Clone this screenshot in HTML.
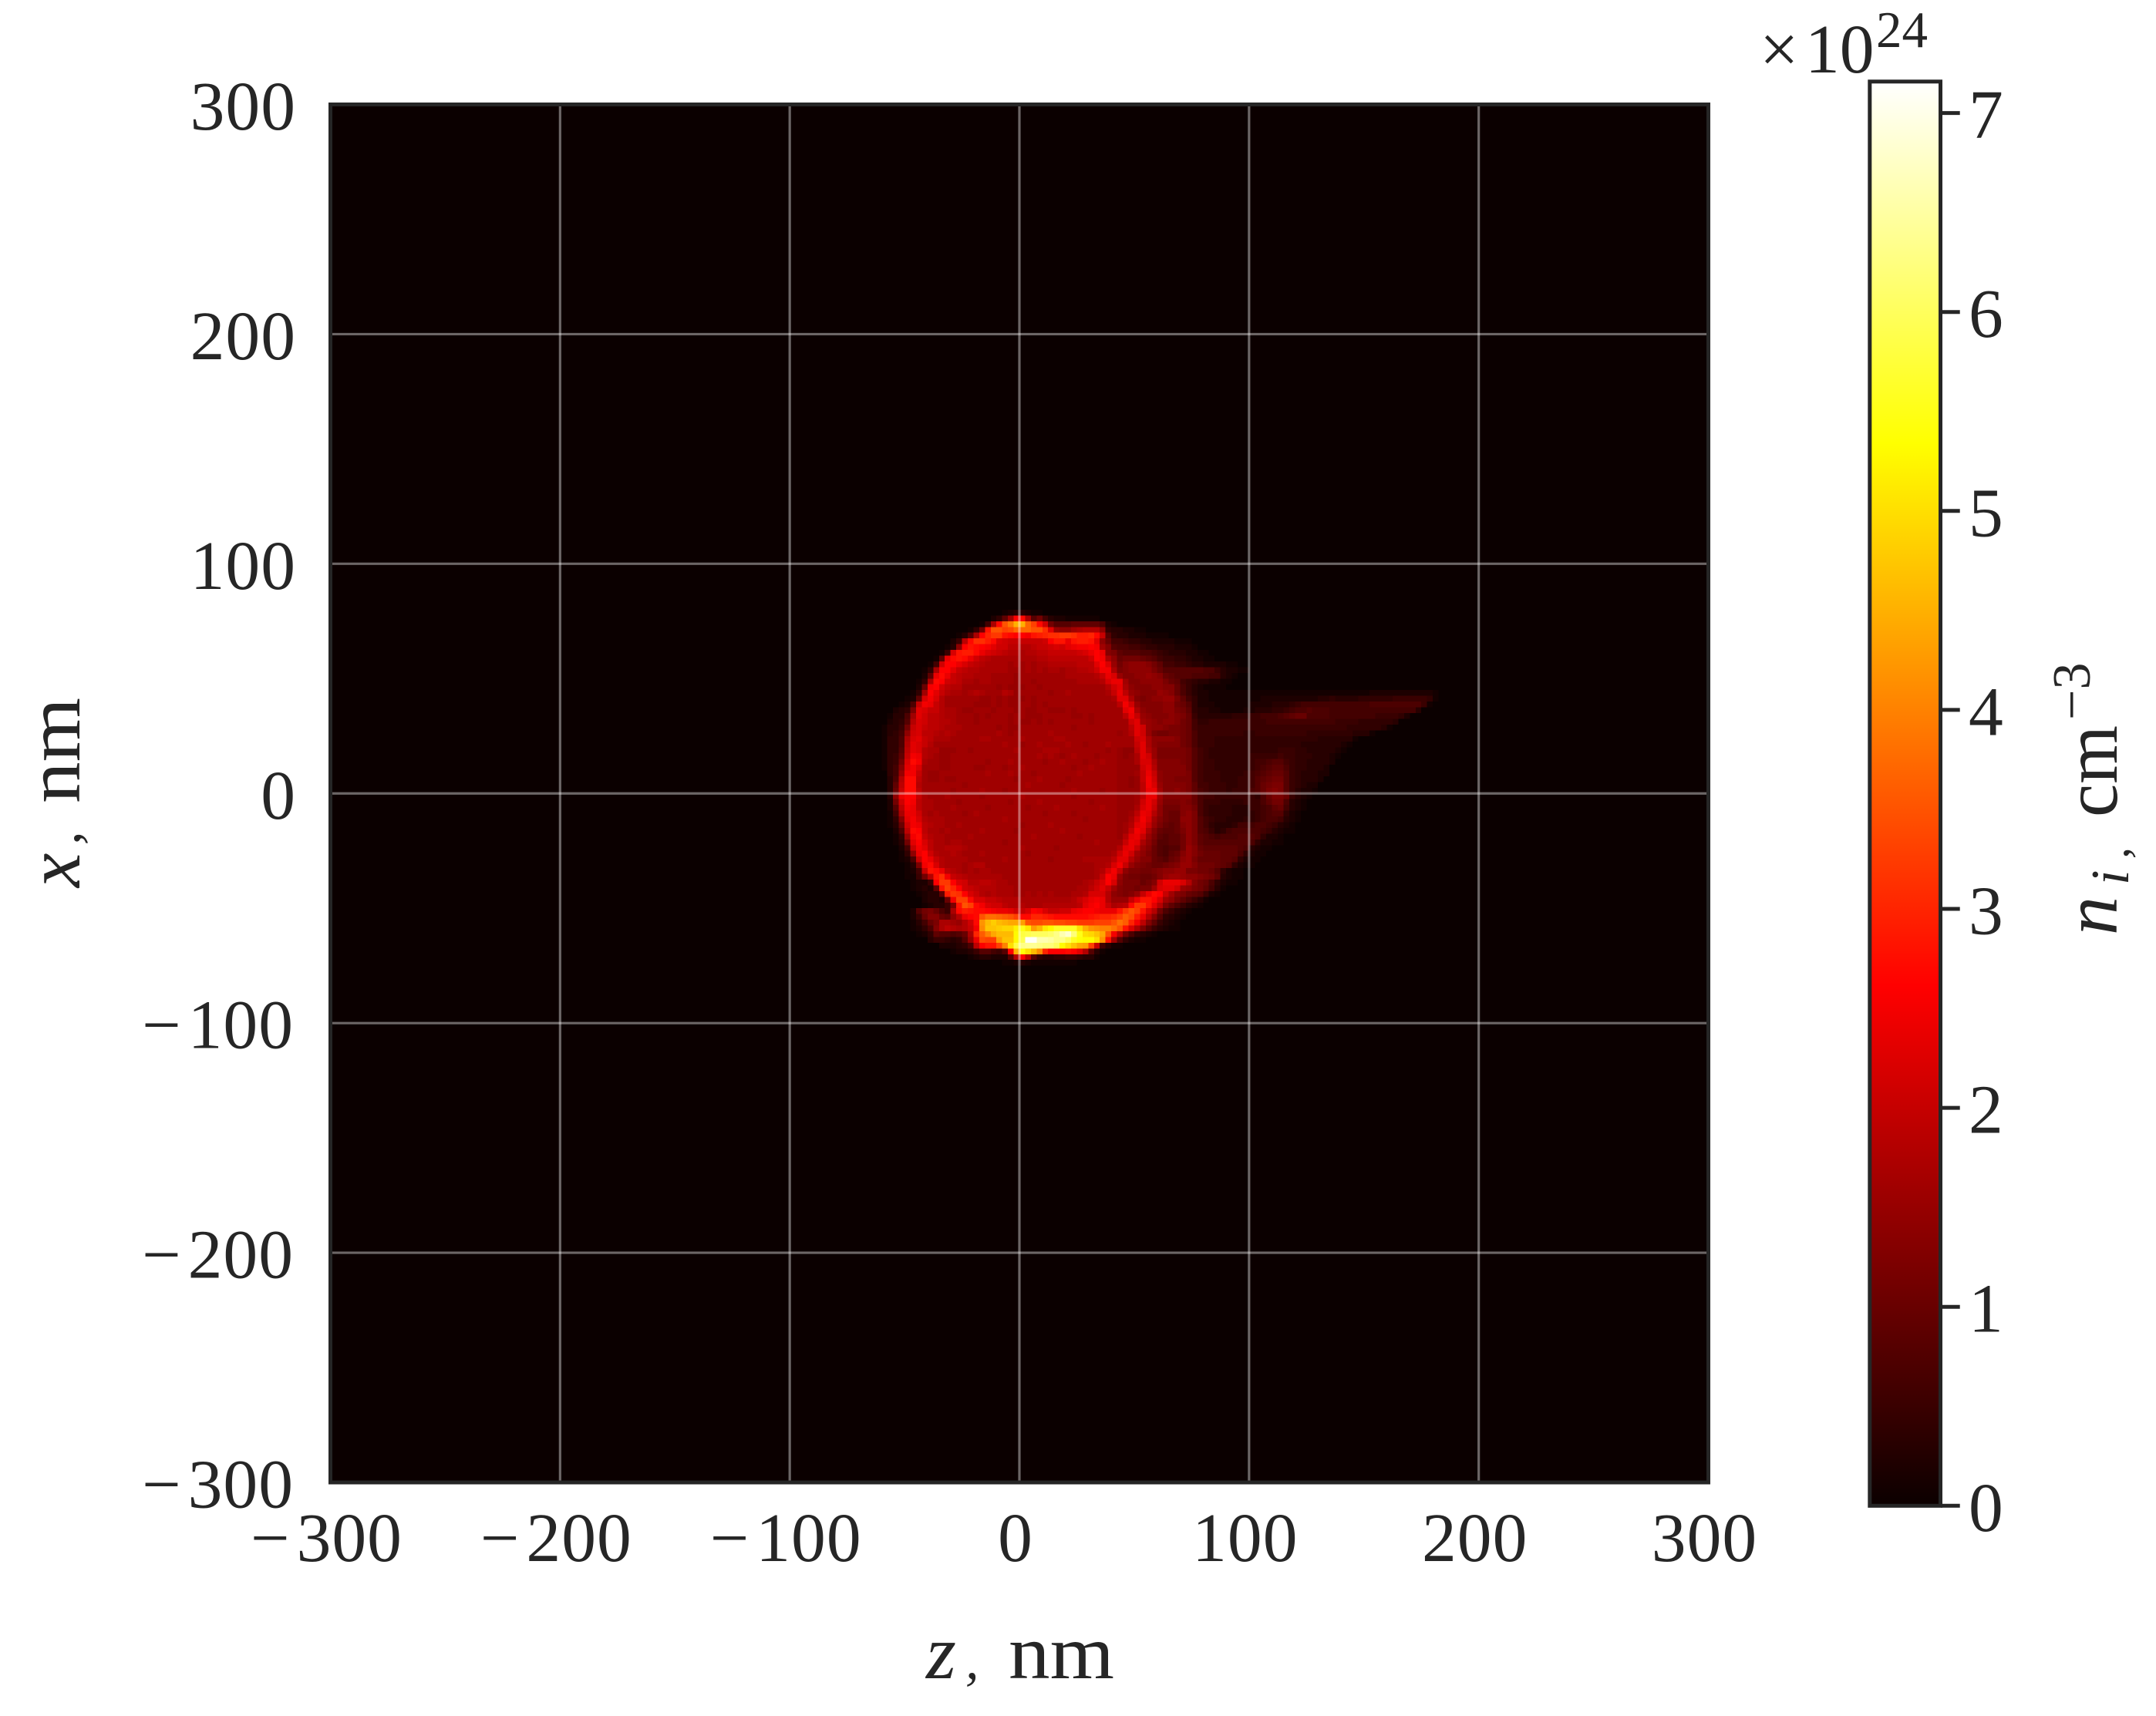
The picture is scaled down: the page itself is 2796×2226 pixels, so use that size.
<!DOCTYPE html>
<html lang="en">
<head>
<meta charset="utf-8">
<title>Ion density map</title>
<style>
html,body{margin:0;padding:0;background:#fff;}
svg{display:block;}
text{font-family:"Liberation Serif","DejaVu Serif",serif;fill:#262626;}
</style>
</head>
<body>
<svg id="chart" xmlns="http://www.w3.org/2000/svg" width="2796" height="2226" viewBox="0 0 2796 2226">
<defs>
<linearGradient id="hotGradient" x1="0" y1="1" x2="0" y2="0">
<stop offset="0" stop-color="#0b0000"/>
<stop offset="0.365" stop-color="#ff0000"/>
<stop offset="0.746" stop-color="#ffff00"/>
<stop offset="1" stop-color="#ffffff"/>
</linearGradient>
</defs>
<rect x="0" y="0" width="2796" height="2226" fill="#ffffff"/>
<rect x="428.5" y="135.5" width="1787" height="1787.5" fill="#0b0000"/>
<g id="cells" shape-rendering="crispEdges"></g>
<g id="grid"></g>
<rect x="428.5" y="135.5" width="1787" height="1787.5" fill="none" stroke="#262626" stroke-width="5"/>
<g id="ticks" font-size="89.6" letter-spacing="1"></g>

<g>
<text x="1201" y="2177" font-size="100" font-style="italic">z</text>
<text x="1252" y="2177" font-size="70" font-style="italic">,</text>
<text x="1308" y="2177" font-size="100" textLength="137" lengthAdjust="spacingAndGlyphs">nm</text>
</g>
<g>
<text transform="translate(103 1151) rotate(-90)" font-size="100" font-style="italic">x</text>
<text transform="translate(103 1096) rotate(-90)" font-size="70" font-style="italic">,</text>
<text transform="translate(103 1042) rotate(-90)" font-size="100" textLength="137" lengthAdjust="spacingAndGlyphs">nm</text>
</g>

<rect x="2424.8" y="105.8" width="91.7" height="1847.5" fill="url(#hotGradient)" stroke="#262626" stroke-width="5"/>
<g id="cbarTicks" font-size="89.6"></g>
<g>
<text x="2282" y="94" font-size="89.6">×</text>
<text x="2341" y="94" font-size="89.6">10</text>
<text x="2433" y="61" font-size="67">24</text>
</g>
<g>
<text transform="translate(2745 1213) rotate(-90)" font-size="100" font-style="italic">n</text>
<text transform="translate(2760 1148) rotate(-90)" font-size="70" font-style="italic">i</text>
<text transform="translate(2760 1114) rotate(-90)" font-size="60" font-style="italic">,</text>
<text transform="translate(2745 1060) rotate(-90)" font-size="100" textLength="119" lengthAdjust="spacingAndGlyphs">cm</text>
<text transform="translate(2710 934) rotate(-90)" font-size="70">−3</text>
</g>
</svg>

<script>
const zTicks = [-300,-200,-100,0,100,200,300];
const xTicks = [-300,-200,-100,0,100,200,300];
const colorbarTicks = [0,1,2,3,4,5,6,7];
const densityMax = 7.158;
const zStart = -60;
const xStart = 80;
const cellSize = 2.5;
/* ion density in units of 0.1e24 cm^-3; rows run from x=+80 nm downward, columns from z=-60 nm rightward */
const densityRows = [
[0,0,0,0,0,0,0,0,0,0, 0,0,0,0,0,0,0,0,0,0, 0,1,2,3,3,2,1,1],
[0,0,0,0,0,0,0,0,0,0, 0,0,0,0,0,0,0,0,0,2, 4,9,16,26,27,17,8,11,6,3, 2,2,1,1,1,1,1,1],
[0,0,0,0,0,0,0,0,0,0, 0,0,0,0,0,0,0,1,6,17, 27,35,39,45,45,37,33,27,21,11, 8,8,8,9,9,9,9,9,7,2, 1],
[0,0,0,0,0,0,0,0,0,0, 0,0,0,0,0,1,4,11,28,35, 35,33,34,37,37,37,35,35,31,23, 15,14,14,16,17,18,18,18,14,4, 3,3,2,2,1,1],
[0,0,0,0,0,0,0,0,0,0, 0,0,0,1,3,8,17,26,30,32, 32,28,27,26,26,25,28,29,30,31, 31,32,32,31,29,29,30,27,20,8, 4,3,3,2,2,2,1,1,1,1],
[0,0,0,0,0,0,0,0,0,0, 0,0,2,5,19,27,31,31,29,27, 22,21,20,20,20,20,20,20,21,26, 28,28,24,28,29,29,28,23,14,10, 6,6,5,4,4,3,3,2,2,2, 2,1,1,1],
[0,0,0,0,0,0,0,0,0,0, 0,1,3,14,26,28,27,26,25,23, 21,21,19,19,18,18,19,20,20,21, 22,21,23,24,25,25,26,25,16,13, 8,7,7,6,6,5,4,4,3,3, 3,2,2,2,1],
[0,0,0,0,0,0,0,0,0,0, 1,5,22,28,29,29,27,24,22,21, 20,19,18,18,17,18,18,19,19,20, 20,20,20,20,21,22,24,26,24,13, 12,9,8,8,8,7,7,6,5,4, 3,3,3,2,2,1,1],
[0,0,0,0,0,0,0,0,0,1, 9,24,27,28,27,24,21,19,18,17, 17,17,17,17,17,17,17,18,18,19, 19,19,19,19,19,19,21,26,25,17, 14,10,11,11,11,10,9,8,6,5, 5,4,4,3,2,2,1,1],
[0,0,0,0,0,0,0,0,1,6, 21,26,26,24,22,20,19,18,17,17, 17,17,16,17,16,17,16,17,17,18, 18,18,18,18,19,19,19,23,26,22, 15,11,13,14,14,14,13,11,9,6, 6,5,5,4,3,3,2,2,2,2, 1,1],
[0,0,0,0,0,0,0,1,4,17, 26,26,23,20,19,18,18,17,17,17, 17,17,16,16,16,17,16,17,16,17, 17,16,17,17,18,18,19,21,25,25, 17,12,13,14,14,14,14,12,10,8, 8,8,8,8,8,8,7,7,5,3, 2,2,1,1],
[0,0,0,0,0,0,0,2,9,24, 27,24,20,19,18,18,17,17,17,16, 16,16,16,15,16,16,16,16,16,16, 16,16,17,17,17,17,17,18,20,24, 22,15,13,13,14,14,15,14,13,10, 9,8,8,8,7,7,7,6,6,3, 2,1],
[0,0,0,0,0,0,1,4,17,27, 26,21,20,19,17,17,16,17,17,16, 16,16,16,15,16,16,15,16,16,16, 16,16,16,16,17,17,17,17,18,22, 24,24,16,13,13,14,14,14,14,12, 10,9,6,5,4,3,3,2,2,1, 1],
[0,0,0,0,0,0,2,10,25,26, 21,19,18,18,16,16,16,16,16,16, 15,16,15,15,15,16,16,15,16,16, 16,16,16,16,16,16,16,16,16,18, 21,23,17,14,13,13,13,14,14,13, 13,10,7,5,3,2,1,1,1,1],
[0,0,0,0,0,1,4,16,26,23, 20,18,17,17,16,17,18,17,16,16, 16,18,17,15,16,16,16,16,16,15, 16,16,17,16,16,16,16,16,16,17, 20,24,19,15,14,13,13,13,15,14, 13,10,7,5,3,2,2,1,1,1, 1,1,1,1,1,1,1,1,1,1, 1,1,1,1,1,1,1,1,1,1, 1,1,1,1,1,2,2,2,2,2, 2,2,2,2,2,2,1],
[0,0,0,0,1,2,9,22,25,22, 18,16,16,16,16,16,16,15,15,16, 15,16,15,15,15,16,15,16,16,16, 16,16,16,16,16,16,16,16,16,16, 17,23,23,17,13,12,13,14,14,15, 15,12,9,6,4,2,2,1,1,1, 1,1,1,1,1,1,2,2,2,2, 2,2,2,2,2,2,3,3,4,3, 3,3,3,4,4,4,4,4,4,5, 5,5,5,5,5,4,1],
[0,0,0,1,2,7,20,25,24,20, 18,16,16,16,16,16,15,15,15,16, 15,16,15,15,16,16,15,16,15,16, 16,16,16,16,16,16,16,16,16,16, 16,19,25,21,15,13,13,13,13,14, 14,11,10,8,4,2,2,2,1,1, 1,1,1,1,2,2,2,2,3,3, 3,4,5,6,6,6,6,6,6,6, 6,6,6,6,6,7,7,7,7,7, 7,7,7,7,5,1],
[0,0,2,3,4,12,23,22,20,20, 18,17,17,16,15,15,16,16,16,15, 16,16,16,15,16,15,15,16,16,15, 15,15,16,15,16,16,16,16,16,16, 16,16,23,25,17,14,13,13,13,14, 14,12,11,9,4,3,3,2,2,1, 1,1,1,2,2,3,3,3,4,4, 5,6,7,7,8,7,7,7,6,6, 6,6,6,6,6,6,6,6,6,6, 6,6,6,3],
[0,1,3,3,7,16,23,21,19,19, 18,17,17,16,16,16,15,16,15,16, 16,16,15,16,16,15,15,15,16,16, 16,16,16,15,15,16,15,16,16,16, 16,16,19,24,20,15,14,13,13,13, 14,13,12,10,5,3,3,3,3,3, 3,4,4,4,5,5,6,6,6,7, 8,9,10,10,7,7,7,7,6,6, 6,6,6,6,6,6,5,5,5,5, 4,2],
[0,2,3,4,8,18,22,21,19,19, 18,18,17,16,16,16,15,16,16,16, 16,16,15,16,15,15,16,15,16,15, 16,16,16,16,16,16,15,16,16,16, 16,16,16,21,23,16,15,14,13,14, 14,13,11,10,6,4,4,5,5,5, 5,5,5,5,5,5,5,6,6,6, 6,6,6,6,6,6,6,6,6,5, 5,5,5,4,4,4,4,4,4,3],
[1,3,3,5,11,20,22,20,19,19, 18,17,17,17,16,16,16,16,16,16, 15,16,15,15,16,16,16,16,16,16, 16,16,16,15,16,16,16,16,16,16, 16,16,16,19,23,21,15,14,14,13, 12,12,11,10,6,5,5,5,5,5, 5,5,5,5,5,5,5,5,5,5, 5,5,5,5,5,5,5,5,5,5, 5,4,4,4,4,4,4,3,1],
[1,3,4,6,14,21,22,19,19,18, 17,18,17,16,16,16,16,16,16,16, 17,16,15,16,16,16,16,16,16,17, 16,16,16,16,16,16,16,16,16,16, 16,15,16,18,23,21,15,12,11,11, 12,12,11,10,7,5,5,5,5,5, 5,5,5,4,4,5,5,5,5,5, 5,5,5,5,4,4,4,4,4,4, 4,4,3,3,3,1],
[1,4,4,7,17,22,23,20,19,17, 17,17,16,16,16,16,16,17,17,16, 16,16,16,16,17,16,16,16,16,16, 17,17,16,16,16,16,16,16,16,16, 16,16,16,16,21,22,17,14,14,14, 14,13,11,10,7,5,5,5,4,4, 4,4,4,4,4,4,4,4,4,4, 4,4,4,4,4,4,3,3,3,3, 3,3,1],
[1,4,4,7,18,23,22,20,18,16, 16,16,16,16,16,16,16,16,16,16, 16,17,16,16,15,16,16,17,16,16, 16,16,17,16,16,15,16,16,16,17, 16,16,16,16,20,23,17,14,13,13, 13,13,11,10,7,5,5,5,4,4, 4,4,4,4,4,4,4,4,4,4, 4,4,4,3,3,3,3,3,3,3, 2,1],
[1,4,4,8,19,23,22,18,17,17, 15,15,15,16,16,15,16,16,16,16, 16,16,16,17,16,16,16,16,17,17, 17,16,16,16,16,16,16,16,16,15, 16,15,14,14,19,23,18,15,12,12, 12,12,12,11,8,6,5,4,4,4, 4,4,4,4,4,4,4,4,4,5, 5,5,4,4,3,3,3,3,3,2, 1],
[1,4,5,9,20,25,24,18,17,16, 15,15,16,16,16,16,16,16,16,16, 16,16,16,16,16,16,16,17,16,17, 16,15,16,17,16,16,16,15,16,16, 16,15,14,15,17,23,21,15,12,12, 12,12,12,11,8,6,5,4,4,4, 4,4,4,4,5,5,5,5,5,6, 5,5,4,4,4,3,3,3,2,1],
[1,4,5,11,22,27,25,17,16,16, 15,15,16,16,16,16,16,16,15,16, 16,16,17,16,16,16,16,16,15,16, 16,17,16,16,16,15,16,16,17,16, 16,15,15,15,17,22,22,17,13,13, 13,13,12,11,8,6,5,5,4,4, 4,4,4,4,5,6,6,7,8,8, 6,5,4,4,3,3,3,3,2],
[1,4,6,13,23,25,22,16,16,16, 15,15,16,16,16,16,15,15,16,16, 16,15,16,16,17,16,16,16,16,16, 16,16,16,15,16,16,17,16,16,16, 16,15,15,15,15,21,23,18,13,13, 13,13,13,11,8,6,5,5,4,4, 4,4,4,4,5,6,7,8,9,9, 7,5,4,4,3,3,3,2],
[0,4,6,15,25,25,20,16,15,15, 16,16,16,16,16,16,16,16,17,16, 16,16,17,16,16,16,15,16,16,16, 16,16,16,16,17,16,16,16,16,16, 16,15,15,15,16,20,24,20,14,13, 13,13,13,12,8,6,5,5,5,4, 4,4,4,5,6,7,8,9,10,10, 8,5,4,3,3,3,2,2],
[0,3,7,18,27,27,19,16,15,15, 16,15,15,16,16,16,16,16,16,16, 16,16,16,15,16,16,16,17,16,16, 16,16,15,16,16,16,16,16,16,16, 16,15,15,14,15,20,25,21,14,13, 13,12,12,12,8,6,5,5,5,4, 4,4,5,5,6,8,9,10,11,11, 8,5,4,3,3,3,2],
[0,3,9,19,27,27,18,16,16,16, 16,16,16,16,15,16,16,16,16,16, 16,16,16,16,16,17,16,16,16,16, 16,15,16,16,16,16,16,16,16,16, 16,15,15,14,15,19,25,22,15,13, 13,13,13,12,9,6,6,5,5,5, 4,4,5,5,6,8,10,11,12,12, 8,5,4,3,2,2],
[0,3,10,20,27,27,19,16,16,16, 16,16,15,16,16,16,16,17,16,16, 16,15,16,16,16,16,16,16,16,16, 16,16,16,17,16,16,16,16,15,16, 16,15,15,15,15,19,24,24,16,13, 13,14,13,12,9,7,6,5,5,5, 4,5,5,5,7,8,10,12,13,12, 8,5,3,2,2,1],
[0,3,14,24,26,26,20,17,16,16, 16,17,16,16,16,16,16,15,16,16, 16,16,16,16,17,16,16,16,16,16, 16,16,16,15,16,16,16,16,16,16, 16,15,15,15,16,19,24,24,16,13, 13,13,13,13,10,7,6,6,5,5, 5,5,5,5,5,4,7,10,12,12, 10,5,3,2,1],
[0,2,11,21,26,25,19,17,17,16, 16,16,16,15,16,16,16,16,16,16, 16,16,15,16,16,16,16,17,16,16, 16,16,16,16,16,16,15,16,16,16, 16,15,15,15,16,21,24,21,15,12, 12,12,13,12,10,7,5,5,5,4, 4,4,4,5,5,5,7,9,11,11, 7,3,2,1],
[0,2,8,19,25,24,19,17,17,16, 16,16,17,16,16,16,16,16,15,16, 16,16,16,16,16,15,16,16,16,16, 17,16,16,16,16,16,16,16,17,16, 16,15,15,15,17,22,24,20,14,11, 11,11,13,13,11,7,5,4,4,4, 4,3,3,3,5,5,6,7,9,10, 6,3,2,1],
[0,1,6,17,24,24,21,17,16,17, 16,16,16,16,15,16,17,16,16,16, 16,16,16,16,16,16,16,16,15,16, 16,16,16,15,16,16,16,16,16,16, 16,15,15,16,19,24,23,18,14,11, 10,10,13,14,12,7,5,4,4,4, 4,3,3,3,4,5,6,7,8,8, 4,2,1],
[0,1,4,13,23,25,22,18,17,17, 17,16,16,16,16,16,16,16,16,16, 16,17,16,16,16,16,16,16,16,16, 16,16,16,16,16,15,16,16,16,16, 16,15,15,17,21,25,22,16,13,11, 10,10,14,14,12,8,6,5,4,4, 3,3,3,4,4,5,6,7,7,6, 3,2,1],
[0,1,3,10,21,25,24,19,18,17, 17,16,16,17,16,16,16,16,16,16, 16,16,16,16,15,16,16,16,16,17, 16,16,16,16,16,16,16,16,16,16, 16,15,16,18,23,24,20,15,12,10, 9,10,13,14,12,8,6,4,3,3, 3,4,6,6,6,7,7,6,5,3, 2,1],
[0,0,2,7,19,27,26,19,17,17, 16,17,16,16,16,16,16,17,16,16, 16,16,16,15,16,16,16,16,16,16, 16,17,16,16,16,16,16,16,16,16, 16,15,16,20,25,23,17,13,10,9, 9,10,12,14,12,8,7,5,3,4, 6,7,7,7,7,7,6,5,3,2, 1,1],
[0,0,1,4,15,25,27,20,18,17, 17,16,16,16,16,17,16,16,16,16, 16,16,16,16,16,16,17,16,16,16, 16,16,16,16,15,16,16,16,16,16, 16,15,18,23,24,20,15,12,9,8, 9,9,11,14,12,9,8,7,6,7, 7,7,8,8,8,7,4,2,2,1],
[0,0,1,3,11,23,26,22,19,17, 17,16,17,17,16,16,16,16,16,16, 16,15,16,16,16,16,16,16,16,16, 16,16,16,16,16,16,16,17,16,16, 16,16,20,24,23,17,14,11,8,8, 9,9,11,14,12,9,8,8,8,8, 8,8,8,8,7,4,2,2,1,1],
[0,0,0,2,6,20,25,23,19,17, 17,18,18,18,17,16,16,16,16,16, 16,16,16,16,17,16,16,16,16,16, 15,16,16,16,16,16,16,16,16,16, 16,18,23,24,20,15,13,10,8,7, 8,8,11,15,13,10,9,9,9,9, 9,9,8,7,3,2,1,1],
[0,0,0,1,4,14,24,26,21,18, 17,17,18,17,16,16,16,17,16,16, 16,16,16,16,16,15,16,16,16,16, 16,16,16,16,16,16,16,16,16,16, 17,21,24,21,16,14,12,10,8,7, 9,10,13,15,13,11,10,10,10,9, 9,9,7,4,2,1,1],
[0,0,0,1,2,7,20,26,24,20, 18,17,17,17,17,16,16,16,16,16, 16,17,16,16,16,16,16,16,16,15, 16,16,16,16,16,17,17,17,17,17, 19,23,23,18,15,13,13,10,9,8, 10,11,14,15,12,10,10,10,10,9, 9,8,4,2,1,1],
[0,0,0,0,1,3,12,25,27,22, 18,17,17,17,16,17,18,18,16,16, 16,16,16,16,16,16,16,16,16,16, 16,16,16,16,16,16,16,17,17,18, 22,25,20,15,13,12,11,10,10,11, 12,13,15,15,13,11,11,11,10,9, 8,4,2,1,1],
[0,0,0,0,1,2,6,20,28,27, 24,19,18,17,16,17,16,17,17,16, 16,16,16,16,16,16,16,16,16,16, 16,16,16,16,16,16,16,17,18,22, 25,20,14,12,12,11,11,12,13,14, 14,15,15,12,12,11,11,10,8,4, 2,1,1],
[0,0,0,0,1,1,5,11,18,28, 31,25,20,19,18,17,17,17,17,17, 17,16,16,16,16,16,16,16,16,16, 16,16,16,16,16,16,16,17,20,26, 24,15,12,11,11,10,10,11,13,15, 16,16,15,14,14,13,12,11,9,3, 2,1,1],
[0,0,0,0,0,1,2,2,5,26, 32,32,26,22,21,18,18,19,19,18, 17,17,16,16,16,16,16,16,16,16, 16,16,16,16,16,17,18,20,22,26, 22,14,12,12,12,10,11,13,21,24, 24,24,22,18,13,11,10,7,4,2, 1,1],
[0,0,0,0,0,1,2,3,2,9, 28,33,30,26,21,20,19,18,18,18, 17,17,17,16,16,16,16,16,16,16, 16,16,16,16,17,17,19,21,23,20, 16,13,12,12,11,12,12,16,22,23, 23,21,15,14,12,11,9,6,3,1],
[0,0,0,0,0,0,1,2,3,3, 9,29,32,31,26,22,20,18,17,18, 17,17,17,16,16,17,16,17,16,17, 16,16,16,17,17,18,22,22,22,18, 14,13,12,13,15,20,24,27,26,20, 16,13,12,10,9,8,5,2,1],
[0,0,0,0,0,0,0,2,3,3, 2,10,25,33,33,27,22,22,20,20, 19,18,18,18,17,17,17,17,17,17, 17,17,17,18,20,22,24,25,24,18, 15,15,15,20,24,28,28,26,22,16, 14,11,9,7,5,3,1],
[0,0,0,0,0,0,0,1,2,3, 3,5,12,28,35,33,27,25,22,21, 21,19,18,18,18,17,17,17,18,18, 18,18,18,18,19,23,25,26,24,20, 17,18,19,27,32,32,28,23,18,12, 9,7,5,3,2,1],
[0,0,0,0,0,2,8,11,12,10, 7,5,17,27,29,28,27,27,26,25, 24,24,23,21,20,22,26,25,22,20, 20,21,21,24,25,26,26,25,24,24, 24,28,32,35,33,28,22,18,11,7, 5,3,2,1],
[0,0,0,0,0,2,5,10,13,13, 10,9,14,18,24,26,27,35,38,38, 37,36,35,33,27,27,30,30,29,28, 27,27,27,27,27,27,28,29,30,30, 31,33,36,34,29,24,18,13,8,4, 3,2,1],
[0,0,0,0,0,1,3,6,10,12, 17,17,16,15,18,21,27,42,46,48, 46,45,44,44,43,35,34,34,35,35, 34,34,33,33,32,32,32,33,33,33, 35,38,36,30,25,19,13,9,5,3, 2,1],
[0,0,0,0,0,1,2,4,7,13, 17,19,18,17,18,20,25,41,47,47, 48,49,49,52,55,51,43,46,51,53, 56,56,56,56,50,45,42,41,40,40, 38,35,28,22,17,12,8,5,3,2, 1,1],
[0,0,0,0,0,0,1,2,4,9, 8,8,7,8,10,17,30,36,40,44, 46,46,46,53,58,59,60,60,60,61, 63,66,68,62,55,50,49,47,44,35, 25,18,11,7,4,3,2,1],
[0,0,0,0,0,0,0,0,3,5, 5,4,3,4,8,15,24,34,33,33, 43,47,47,53,59,71,71,66,66,65, 63,63,60,56,54,53,53,50,42,28, 16,8,4,2,1,1],
[0,0,0,0,0,0,0,0,0,0, 2,2,2,3,4,7,19,26,28,28, 33,40,50,58,63,64,64,63,62,62, 60,53,50,47,44,43,33,20,6,3, 1,1],
[0,0,0,0,0,0,0,0,0,0, 0,0,1,2,2,3,5,8,8,6, 5,8,26,45,54,50,46,41,30,26, 26,26,27,26,23,18,8,3,1],
[0,0,0,0,0,0,0,0,0,0, 0,0,0,0,0,1,2,3,3,2, 2,2,8,18,26,18,8,4,3,3, 4,4,5,5,4,3,3,1],
[0,0,0,0,0,0,0,0,0,0, 0,0,0,0,0,0,0,0,0,0, 0,1,1,2,3,2,1,1,1,1, 1,1,1,1]
];

var SVGNS = 'http://www.w3.org/2000/svg';
var plotLeft = 428.5, plotRight = 2215.5, plotTop = 135.5, plotBottom = 1923;
function zScale(z){ return plotLeft + (z + 300) * (plotRight - plotLeft) / 600; }
function xScale(x){ return plotBottom - (x + 300) * (plotBottom - plotTop) / 600; }
var cbarBottom = 1953.3, cbarUnit = 258.1;
function cbarScale(v){ return cbarBottom - v * cbarUnit; }
function hot(t){
  t = Math.max(0, Math.min(1, t));
  var r = t < 0.365 ? 0.0416 + (1 - 0.0416) * t / 0.365 : 1;
  var g = t < 0.365 ? 0 : (t < 0.746 ? (t - 0.365) / 0.381 : 1);
  var b = t < 0.746 ? 0 : (t - 0.746) / 0.254;
  return 'rgb(' + Math.round(r * 255) + ',' + Math.round(g * 255) + ',' + Math.round(b * 255) + ')';
}

var cellsGroup = document.getElementById('cells');
densityRows.forEach(function(row, r){
  var xTop = xStart - r * cellSize;
  row.forEach(function(val, c){
    if (!val) return;
    var zLeft = zStart + c * cellSize;
    var el = document.createElementNS(SVGNS, 'rect');
    el.setAttribute('x', zScale(zLeft));
    el.setAttribute('y', xScale(xTop));
    el.setAttribute('width', zScale(zLeft + cellSize) - zScale(zLeft));
    el.setAttribute('height', xScale(xTop - cellSize) - xScale(xTop));
    el.setAttribute('fill', hot((val / 10) / densityMax));
    
    
    cellsGroup.appendChild(el);
  });
});

var gridGroup = document.getElementById('grid');
function gridLine(x1, y1, x2, y2, name){
  var el = document.createElementNS(SVGNS, 'line');
  el.setAttribute('x1', x1);
  el.setAttribute('y1', y1);
  el.setAttribute('x2', x2);
  el.setAttribute('y2', y2);
  el.setAttribute('stroke', '#ffffff');
  el.setAttribute('stroke-opacity', '0.4');
  el.setAttribute('stroke-width', '3.2');
  
  
  gridGroup.appendChild(el);
}
zTicks.slice(1, -1).forEach(function(z){ gridLine(zScale(z), plotTop, zScale(z), plotBottom, 'vertical-grid-line'); });
xTicks.slice(1, -1).forEach(function(x){ gridLine(plotLeft, xScale(x), plotRight, xScale(x), 'horizontal-grid-line'); });

var ticksGroup = document.getElementById('ticks');
function tickLabel(value, px, py, anchor, name){
  var el = document.createElementNS(SVGNS, 'text');
  el.setAttribute('x', px);
  el.setAttribute('y', py);
  el.setAttribute('text-anchor', anchor);
  
  
  if (value < 0) {
    var minus = document.createElementNS(SVGNS, 'tspan');
    minus.textContent = '\u2212';
    el.appendChild(minus);
    var digits = document.createElementNS(SVGNS, 'tspan');
    digits.setAttribute('dx', '8');
    digits.textContent = String(Math.abs(value));
    el.appendChild(digits);
  } else {
    el.textContent = String(value);
  }
  ticksGroup.appendChild(el);
}
zTicks.forEach(function(z){ tickLabel(z, zScale(z) - 5, 2025, 'middle', 'x-tick-label'); });
xTicks.forEach(function(x){ tickLabel(x, x < 0 ? 381 : 384, xScale(x) + 32.5, 'end', 'y-tick-label'); });

var cbarGroup = document.getElementById('cbarTicks');
colorbarTicks.forEach(function(v){
  var tick = document.createElementNS(SVGNS, 'line');
  tick.setAttribute('x1', 2517);
  tick.setAttribute('x2', 2541.7);
  tick.setAttribute('y1', cbarScale(v));
  tick.setAttribute('y2', cbarScale(v));
  tick.setAttribute('stroke', '#262626');
  tick.setAttribute('stroke-width', '5');
  
  
  cbarGroup.appendChild(tick);
  var label = document.createElementNS(SVGNS, 'text');
  label.setAttribute('x', 2553);
  label.setAttribute('y', cbarScale(v) + 32.5);
  
  
  label.textContent = String(v);
  cbarGroup.appendChild(label);
});
</script>
</body>
</html>
